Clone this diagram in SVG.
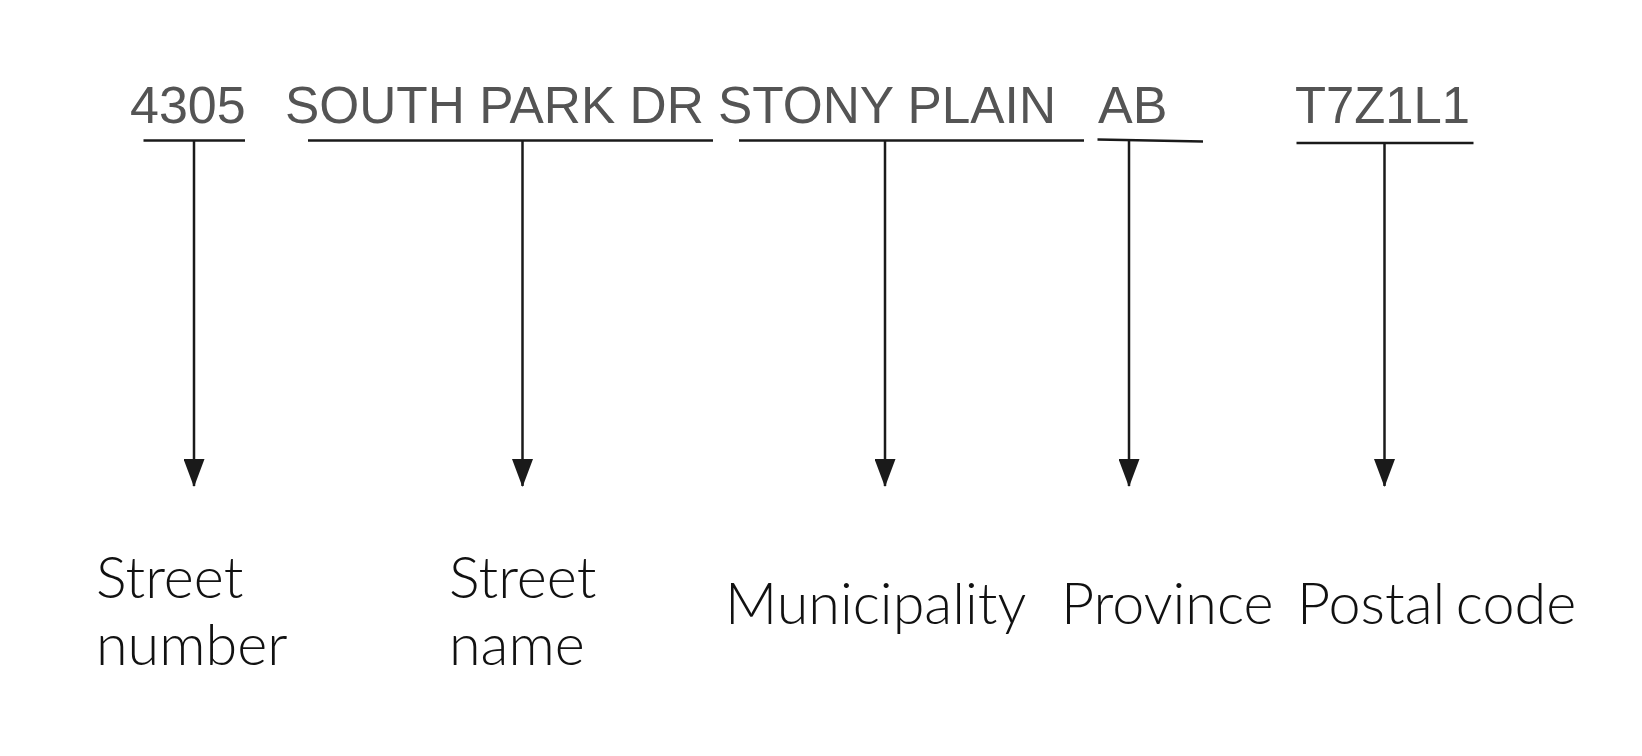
<svg xmlns="http://www.w3.org/2000/svg" width="1642" height="756" viewBox="0 0 1642 756">
<defs>
<style>
.addr{font-family:"Liberation Sans",Arial,sans-serif;font-size:52px;fill:#545454}
.lbl{font-family:Lato,"Open Sans",sans-serif;font-weight:300;font-size:57.5px;fill:#111}
.ul{stroke:#1a1a1a;stroke-width:2.5;fill:none}
.arr{stroke:#1a1a1a;stroke-width:2.5;fill:none;marker-end:url(#ah)}
</style>
<marker id="ah" markerUnits="userSpaceOnUse" markerWidth="28" markerHeight="21" refX="27" refY="10.5" orient="auto" viewBox="0 0 28 21">
<path d="M0,0 L28,10.5 L0,21 Z" fill="#1a1a1a"/>
</marker>
</defs>
<rect width="1642" height="756" fill="#fff"/>
<g id="address">
<text class="addr" x="130" y="123">4305</text>
<text class="addr" x="285" y="123" textLength="771" lengthAdjust="spacingAndGlyphs">SOUTH PARK DR STONY PLAIN</text>
<text class="addr" x="1098" y="123">AB</text>
<text class="addr" x="1295" y="123" textLength="175" lengthAdjust="spacingAndGlyphs">T7Z1L1</text>
</g>
<g id="connectors">
<line class="ul" x1="143.5" y1="140.5" x2="245" y2="140.5"/>
<line class="ul" x1="308" y1="140.5" x2="713" y2="140.5"/>
<line class="ul" x1="739" y1="140.5" x2="1084" y2="140.5"/>
<line class="ul" x1="1097.5" y1="139.5" x2="1203" y2="141.5"/>
<line class="ul" x1="1296.5" y1="143" x2="1473.5" y2="143"/>
<line class="arr" x1="194" y1="140.5" x2="194" y2="486"/>
<line class="arr" x1="522.5" y1="140.5" x2="522.5" y2="486"/>
<line class="arr" x1="885" y1="140.5" x2="885" y2="486"/>
<line class="arr" x1="1129" y1="140.5" x2="1129" y2="486"/>
<line class="arr" x1="1384.5" y1="143" x2="1384.5" y2="486"/>
</g>
<g id="node-street-number"><text class="lbl" x="96" y="598">Street</text><text class="lbl" x="96" y="665">number</text></g>
<g id="node-street-name"><text class="lbl" x="449" y="598">Street</text><text class="lbl" x="449" y="665">name</text></g>
<g id="node-municipality"><text class="lbl" x="725" y="624">Municipality</text></g>
<g id="node-province"><text class="lbl" x="1061" y="624">Province</text></g>
<g id="node-postal-code"><text class="lbl" x="1297" y="624" word-spacing="-5">Postal code</text></g>
</svg>
